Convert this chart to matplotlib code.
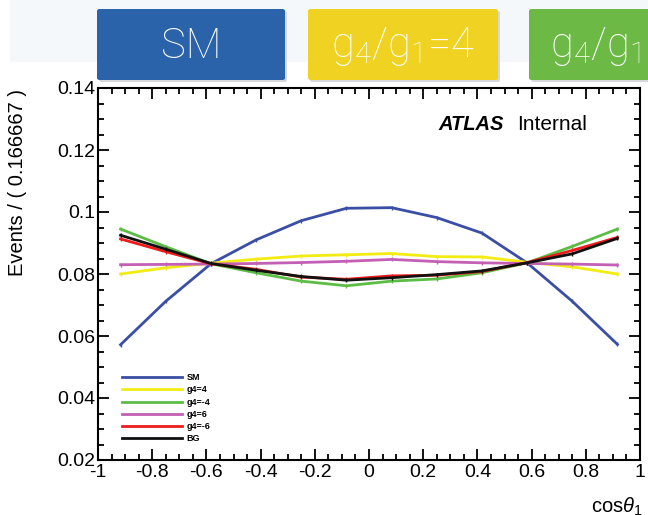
import matplotlib
matplotlib.use("Agg")
import matplotlib.pyplot as plt
from matplotlib.patches import Rectangle, FancyBboxPatch
from matplotlib.ticker import MultipleLocator

# cos(theta_1) bin centres (12 bins of width 1/6)
cos_theta = [-0.9167, -0.75, -0.5833, -0.4167, -0.25, -0.0833,
             0.0833, 0.25, 0.4167, 0.5833, 0.75, 0.9167]

# normalised distributions for each hypothesis
sm      = [0.0572, 0.0712, 0.0833, 0.0910, 0.0972, 0.1012, 0.1014, 0.0982, 0.0932, 0.0836, 0.0712, 0.0573]
g4_p4   = [0.0800, 0.0820, 0.0835, 0.0848, 0.0858, 0.0862, 0.0866, 0.0856, 0.0855, 0.0838, 0.0823, 0.0800]
g4_m4   = [0.0945, 0.0888, 0.0833, 0.0804, 0.0777, 0.0762, 0.0777, 0.0784, 0.0804, 0.0836, 0.0889, 0.0945]
g4_p6   = [0.0830, 0.0831, 0.0832, 0.0834, 0.0837, 0.0841, 0.0847, 0.0840, 0.0836, 0.0834, 0.0832, 0.0829]
g4_m6   = [0.0913, 0.0872, 0.0833, 0.0815, 0.0790, 0.0783, 0.0794, 0.0796, 0.0808, 0.0837, 0.0876, 0.0918]
bg      = [0.0925, 0.0880, 0.0834, 0.0812, 0.0792, 0.0780, 0.0788, 0.0798, 0.0810, 0.0836, 0.0865, 0.0915]

series = [sm, g4_p4, g4_m4, g4_p6, g4_m6, bg]
labels = ["SM", "g4=4", "g4=-4", "g4=6", "g4=-6", "BG"]
colors = ["#3b4ea6", "#f2ec12", "#5cbd45", "#c35fb5", "#ee1c1c", "#111111"]

banner_labels = ["SM", r"g$\mathregular{_4}$/g$\mathregular{_1}$=4", r"g$\mathregular{_4}$/g$\mathregular{_1}$=-4"]
banner_colors = ["#2a63aa", "#f0d322", "#6cb945"]

W, H = 648, 515
plt.rcParams["font.family"] = ["Liberation Sans", "DejaVu Sans"]
plt.rcParams["mathtext.fontset"] = "custom"
plt.rcParams["mathtext.rm"] = "Liberation Sans"
plt.rcParams["mathtext.it"] = "Liberation Sans:italic"

fig = plt.figure(figsize=(W / 100, H / 100), dpi=100)
fig.patch.set_facecolor("white")


def fx(px):
    return px / W


def fy(py):
    return 1 - py / H


ax = fig.add_axes([fx(98), fy(460), fx(640) - fx(98), fy(88) - fy(460)])

for y, lab, col in zip(series, labels, colors):
    ax.plot(cos_theta, y, color=col, lw=2.0, marker="|", ms=3.5, mew=1.0,
            label=lab, solid_joinstyle="round")

ax.set_xlim(-1, 1)
ax.set_ylim(0.02, 0.14)
ax.xaxis.set_minor_locator(MultipleLocator(0.05))
ax.yaxis.set_minor_locator(MultipleLocator(0.005))
xt = [-1, -0.8, -0.6, -0.4, -0.2, 0, 0.2, 0.4, 0.6, 0.8, 1]
ax.set_xticks(xt)
ax.set_xticklabels(["-1", "-0.8", "-0.6", "-0.4", "-0.2", "0", "0.2", "0.4", "0.6", "0.8", "1"])
yt = [0.02, 0.04, 0.06, 0.08, 0.1, 0.12, 0.14]
ax.set_yticks(yt)
ax.set_yticklabels(["0.02", "0.04", "0.06", "0.08", "0.1", "0.12", "0.14"])
ax.tick_params(which="both", direction="in", top=True, right=True, width=1.3,
               labelsize=14, colors="black")
ax.tick_params(which="major", length=8)
ax.tick_params(which="minor", length=4)
ax.tick_params(axis="y", pad=2)
ax.tick_params(axis="x", pad=3)
for s in ax.spines.values():
    s.set_linewidth(1.5)

leg = ax.legend(loc="lower left", bbox_to_anchor=(0.035, 0.03), frameon=False,
                prop={"size": 6.5, "weight": "bold"}, handlelength=6.6,
                handletextpad=0.5, labelspacing=0.36, borderaxespad=0.2)
for h in leg.get_lines():
    h.set_marker("")

fig.text(fx(438), fy(125), "ATLAS", fontsize=14.5, weight="bold", style="italic",
         ha="left", va="center")
fig.text(fx(517), fy(125), "Internal", fontsize=15, ha="left", va="center")

fig.text(fx(18), fy(182), "Events / ( 0.166667 )", rotation=90, fontsize=14.5,
         ha="center", va="center", zorder=2)
fig.text(fx(642), fy(507), r"cos$\theta_1$", fontsize=14.5, ha="right", va="center")

# slide header band with the hypothesis boxes
fig.patches.append(Rectangle((fx(10), fy(62)), 1 - fx(10), 1 - fy(62),
                             transform=fig.transFigure, facecolor="#f5f8fa",
                             edgecolor="none", zorder=4))
box_x = [(97, 285), (308, 498), (529, 727)]
for (x0, x1), col, lab in zip(box_x, banner_colors, banner_labels):
    fig.patches.append(FancyBboxPatch((fx(x0 + 2), fy(82)), fx(x1) - fx(x0), fy(11) - fy(82),
                                      boxstyle="round,pad=0,rounding_size=0.004",
                                      transform=fig.transFigure, facecolor="#d6d9dc",
                                      edgecolor="none", zorder=5))
    fig.patches.append(FancyBboxPatch((fx(x0), fy(80)), fx(x1) - fx(x0), fy(9) - fy(80),
                                      boxstyle="round,pad=0,rounding_size=0.004",
                                      transform=fig.transFigure, facecolor=col,
                                      edgecolor="none", zorder=6))
    fig.text((fx(x0) + fx(x1)) / 2, fy(46), lab, color="white", fontsize=30,
             family=["Roboto", "DejaVu Sans"], weight="light",
             ha="center", va="center", zorder=7)

fig.savefig("out.png", dpi=100)
